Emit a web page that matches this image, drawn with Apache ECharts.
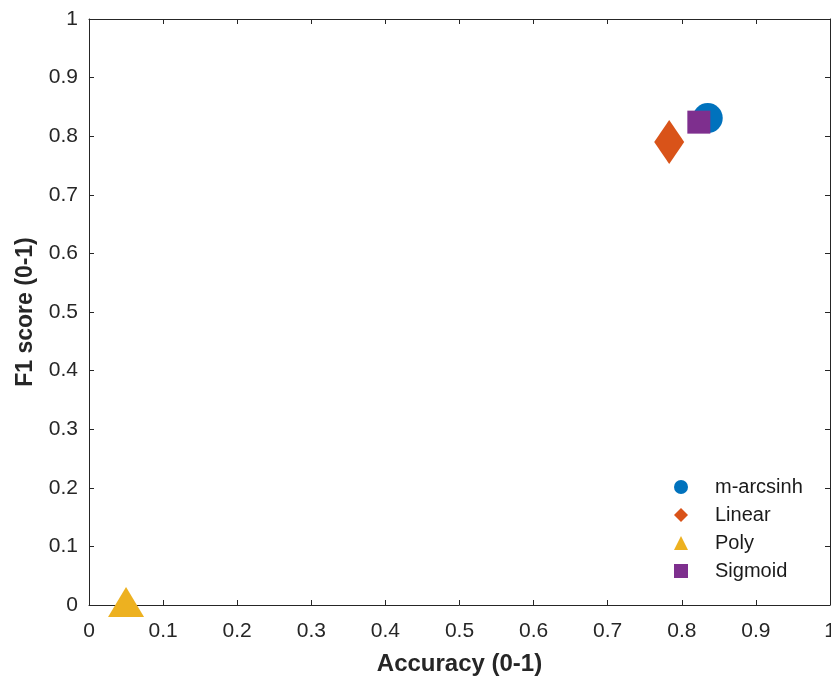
<!DOCTYPE html>
<html><head><meta charset="utf-8">
<script src="https://cdn.jsdelivr.net/npm/echarts@6/dist/echarts.min.js"></script>
<style>html,body{margin:0;padding:0;background:#fff;overflow:hidden}#c{width:831px;height:678px}</style>
</head><body><div id="c"></div>
<script>
const seriesNames = ['m-arcsinh', 'Linear', 'Poly', 'Sigmoid'];
const accuracy = [0.835, 0.783, 0.05, 0.823];
const f1score = [0.831, 0.790, 0.005, 0.824];
const xTicks = [0, 0.1, 0.2, 0.3, 0.4, 0.5, 0.6, 0.7, 0.8, 0.9, 1];
const yTicks = [0, 0.1, 0.2, 0.3, 0.4, 0.5, 0.6, 0.7, 0.8, 0.9, 1];

const colors = ['#0072BD', '#D95319', '#EDB120', '#7E2F8E'];
const symbols = ['circle', 'diamond', 'triangle', 'rect'];
const sizes = [30, [30, 44], [36, 30], 23];

const fmt = v => String(Math.round(v * 10) / 10);
const axisLine = {show: true, onZero: false, lineStyle: {color: '#262626', width: 1}};
const tick = {show: true, inside: true, length: 5, lineStyle: {color: '#262626'}};
const mkX = (pos, labels) => ({
  type: 'value', min: xTicks[0], max: xTicks[xTicks.length - 1], interval: 0.1, position: pos,
  name: labels ? 'Accuracy (0-1)' : '', nameLocation: 'middle', nameGap: 47,
  nameTextStyle: {fontSize: 24, fontWeight: 'bold', color: '#262626', fontFamily: 'Liberation Sans'},
  axisLine: axisLine, splitLine: {show: false}, axisTick: tick,
  axisLabel: {show: labels, fontSize: 21, color: '#262626', margin: 16, fontFamily: 'Liberation Sans',
    formatter: v => fmt(v), showMaxLabel: true, showMinLabel: true, hideOverlap: false}
});
const mkY = (pos, labels) => ({
  type: 'value', min: yTicks[0], max: yTicks[yTicks.length - 1], interval: 0.1, position: pos,
  name: labels ? 'F1 score (0-1)' : '', nameLocation: 'middle', nameGap: 52,
  nameTextStyle: {fontSize: 23, fontWeight: 'bold', color: '#262626', fontFamily: 'Liberation Sans'},
  axisLine: axisLine, splitLine: {show: false}, axisTick: tick,
  axisLabel: {show: labels, fontSize: 21, color: '#262626', margin: 11, fontFamily: 'Liberation Sans',
    formatter: v => fmt(v), showMaxLabel: true, showMinLabel: true, hideOverlap: false}
});

const chart = echarts.init(document.getElementById('c'), null, {renderer: 'canvas'});
chart.setOption({
  animation: false,
  backgroundColor: '#fff',
  grid: {left: 89, right: 1, top: 19, bottom: 73, containLabel: false, outerBoundsMode: 'none'},
  xAxis: [mkX('bottom', true), mkX('top', false)],
  yAxis: [mkY('left', true), mkY('right', false)],
  legend: {
    orient: 'vertical', left: 669, top: 472, itemGap: 8, itemWidth: 14, itemHeight: 14,
    textStyle: {fontSize: 20, lineHeight: 20, color: '#1a1a1a', fontFamily: 'Liberation Sans', padding: [0, 0, 0, 22]},
    data: seriesNames.map((n, i) => ({name: n, icon: symbols[i], itemStyle: {color: colors[i]}}))
  },
  series: seriesNames.map((n, i) => ({
    name: n, type: 'scatter', xAxisIndex: 0, yAxisIndex: 0,
    symbol: symbols[i], symbolSize: sizes[i],
    itemStyle: {color: colors[i], opacity: 1},
    data: [[accuracy[i], f1score[i]]]
  }))
});
</script></body></html>
